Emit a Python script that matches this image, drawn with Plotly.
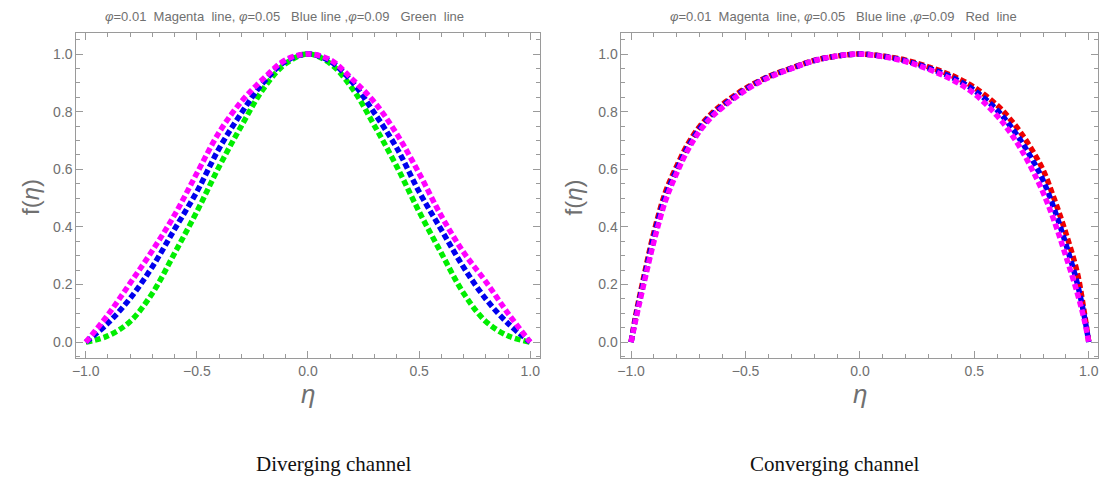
import plotly.graph_objects as go
from plotly.subplots import make_subplots

# ---- Diverging channel data ----
eta_div = [-1.0, -0.9, -0.8, -0.7, -0.6, -0.5, -0.4, -0.3, -0.2, -0.1, 0.0,
           0.1, 0.2, 0.3, 0.4, 0.5, 0.6, 0.7, 0.8, 0.9, 1.0]
div_magenta = [0.0, 0.095, 0.205, 0.318, 0.442, 0.586, 0.728, 0.835, 0.915, 0.98, 1.0,
               0.98, 0.912, 0.832, 0.722, 0.586, 0.438, 0.312, 0.21, 0.1, 0.0]
div_blue = [0.0, 0.066, 0.152, 0.262, 0.392, 0.522, 0.672, 0.795, 0.902, 0.975, 1.0,
            0.975, 0.902, 0.794, 0.673, 0.522, 0.39, 0.26, 0.15, 0.065, 0.0]
div_green = [0.0, 0.022, 0.072, 0.17, 0.309, 0.453, 0.609, 0.75, 0.88, 0.967, 1.0,
             0.967, 0.88, 0.75, 0.609, 0.453, 0.309, 0.17, 0.072, 0.022, 0.0]

# ---- Converging channel data ----
eta_conv = [-1.0, -0.98, -0.95, -0.9, -0.85, -0.8, -0.75, -0.7, -0.65, -0.6, -0.5, -0.4, -0.3, -0.2, -0.1, 0.0,
            0.1, 0.2, 0.3, 0.4, 0.5, 0.6, 0.65, 0.7, 0.75, 0.8, 0.85, 0.9, 0.95, 0.98, 1.0]
conv_magenta = [0.0, 0.076, 0.182, 0.35, 0.49, 0.588, 0.67, 0.733, 0.78, 0.815, 0.874, 0.918, 0.949, 0.977, 0.993, 1.0,
                0.991, 0.974, 0.947, 0.912, 0.862, 0.785, 0.735, 0.675, 0.603, 0.52, 0.418, 0.298, 0.17, 0.078, 0.0]
conv_blue = [0.0, 0.084, 0.194, 0.368, 0.506, 0.6, 0.68, 0.741, 0.786, 0.82, 0.877, 0.92, 0.95, 0.977, 0.993, 1.0,
             0.992, 0.976, 0.951, 0.92, 0.874, 0.805, 0.758, 0.703, 0.638, 0.562, 0.46, 0.34, 0.203, 0.092, 0.0]
conv_red = [0.0, 0.092, 0.206, 0.382, 0.52, 0.612, 0.69, 0.749, 0.792, 0.826, 0.881, 0.922, 0.951, 0.978, 0.993, 1.0,
            0.993, 0.979, 0.955, 0.926, 0.884, 0.822, 0.78, 0.73, 0.67, 0.598, 0.495, 0.378, 0.24, 0.105, 0.0]

titles = ["<i>φ</i>=0.01  Magenta  line, <i>φ</i>=0.05   Blue line ,<i>φ</i>=0.09   Green  line",
          "<i>φ</i>=0.01  Magenta  line, <i>φ</i>=0.05   Blue line ,<i>φ</i>=0.09   Red  line"]
captions = ["Diverging channel", "Converging channel"]
x_ticks = [-1.0, -0.5, 0.0, 0.5, 1.0]
y_ticks = [0.0, 0.2, 0.4, 0.6, 0.8, 1.0]

fig = make_subplots(rows=1, cols=2)

DOT = "6px,3px"
W = 5.5

def add(x, y, color, col):
    fig.add_trace(go.Scatter(x=x, y=y, mode="lines", line=dict(color=color, width=W, dash=DOT, shape="spline", smoothing=1.0),
                             showlegend=False, hoverinfo="skip"), row=1, col=col)

add(eta_div, div_green, "#00ee00", 1)
add(eta_div, div_blue, "#0000ee", 1)
add(eta_div, div_magenta, "#ff00ff", 1)
add(eta_conv, conv_red, "#ee0000", 2)
add(eta_conv, conv_blue, "#0000ee", 2)
add(eta_conv, conv_magenta, "#ff00ff", 2)

FR = "#9a9a9a"
TXT = "#707070"
axis_common = dict(showline=True, linecolor=FR, linewidth=1, mirror="allticks", ticks="inside",
                   tickcolor=FR, ticklen=7, showgrid=False, zeroline=False,
                   tickfont=dict(family="Liberation Sans Narrow, Liberation Sans, Arial", size=14, color=TXT))

xdoms = [[0.0655, 0.4847], [0.5588, 0.9904]]
for i in (1, 2):
    fig.update_xaxes(range=[-1.042, 1.042], domain=xdoms[i-1], tickvals=x_ticks,
                     ticktext=["\u22121.0", "\u22120.5", "0.0", "0.5", "1.0"],
                     minor=dict(ticks="inside", dtick=0.1, tick0=0, ticklen=4, tickcolor=FR),
                     row=1, col=i, **axis_common)
    fig.update_yaxes(range=[-0.056, 1.073], domain=[0.2551, 0.9314], tickvals=y_ticks,
                     ticktext=[f"{v:.1f}" for v in y_ticks],
                     minor=dict(ticks="inside", dtick=0.05, tick0=0, ticklen=4, tickcolor=FR),
                     row=1, col=i, **axis_common)

annos = []
centers = [305.3 / 1110, 859.8 / 1110]
cap_centers = [331 / 1110, 834 / 1110]
title_centers = [282 / 1110, 843 / 1110]
ylab_x = [27 / 1110, 573 / 1110]
for i in range(2):
    annos.append(dict(text=titles[i], x=title_centers[i], y=1 - 17 / 481, xref="paper", yref="paper",
                      showarrow=False, xanchor="center", yanchor="middle",
                      font=dict(family="Liberation Sans Narrow, Liberation Sans, Arial", size=13, color=TXT)))
    annos.append(dict(text="f(<i>η</i>)", x=ylab_x[i], y=1 - 197 / 481, xref="paper", yref="paper",
                      showarrow=False, xanchor="center", yanchor="middle", textangle=-90,
                      font=dict(family="Liberation Sans, Arial", size=24, color=TXT)))
    annos.append(dict(text="<i>η</i>", x=centers[i], y=1 - 394 / 481, xref="paper", yref="paper",
                      showarrow=False, xanchor="center", yanchor="middle",
                      font=dict(family="Liberation Sans, Arial", size=26, color=TXT)))
    annos.append(dict(text=captions[i], x=cap_centers[i], y=1 - 464 / 481, xref="paper", yref="paper",
                      showarrow=False, xanchor="center", yanchor="middle",
                      font=dict(family="Liberation Serif, Times New Roman, serif", size=21, color="#111111")))

fig.update_layout(width=1110, height=481, margin=dict(l=0, r=0, t=0, b=0),
                  paper_bgcolor="white", plot_bgcolor="white", annotations=annos)

fig.write_html("out.html")
